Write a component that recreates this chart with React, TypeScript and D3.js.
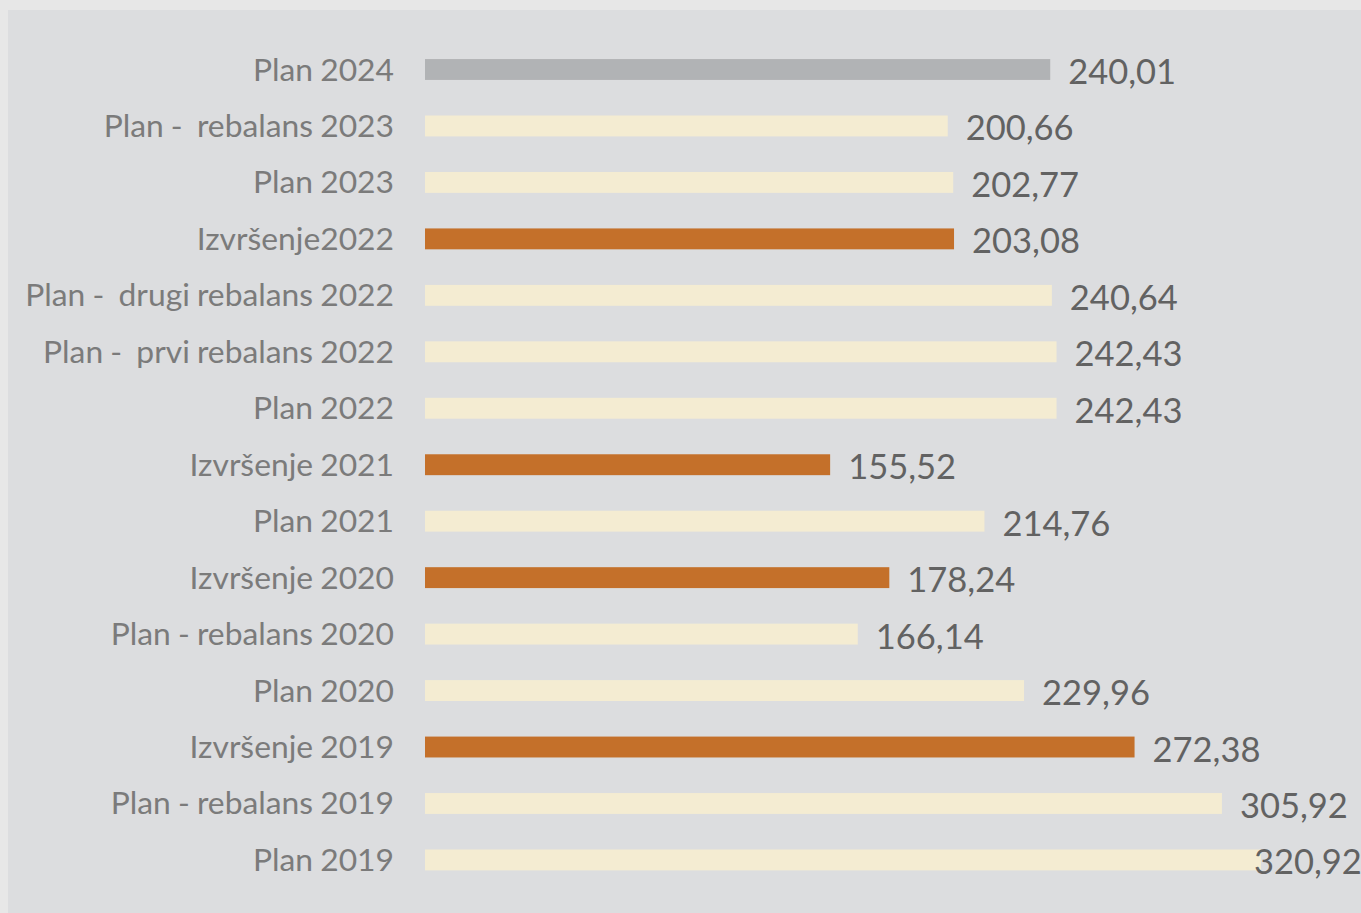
import React from "react";
import * as d3 from "d3";

const categories = [
  "Plan 2024",
  "Plan -  rebalans 2023",
  "Plan 2023",
  "Izvršenje2022",
  "Plan -  drugi rebalans 2022",
  "Plan -  prvi rebalans 2022",
  "Plan 2022",
  "Izvršenje 2021",
  "Plan 2021",
  "Izvršenje 2020",
  "Plan - rebalans 2020",
  "Plan 2020",
  "Izvršenje 2019",
  "Plan - rebalans 2019",
  "Plan 2019",
];
const values = [240.01, 200.66, 202.77, 203.08, 240.64, 242.43, 242.43, 155.52, 214.76, 178.24, 166.14, 229.96, 272.38, 305.92, 320.92];
const kinds = ["current", "plan", "plan", "exec", "plan", "plan", "plan", "exec", "plan", "exec", "plan", "plan", "exec", "plan", "plan"];

const colors: Record<string, string> = { current: "#b1b3b5", plan: "#f4ecd2", exec: "#c4702a" };

export default function App() {
  const W = 1361, H = 913;
  const x0 = 425;
  const x = d3.scaleLinear().domain([0, 320.92]).range([x0, 1261]);
  const step = 56.46;
  const y = d3.scaleBand<string>().domain(categories).range([69.5 - step / 2, 69.5 - step / 2 + step * categories.length]).paddingInner(0.63).paddingOuter(0.315);
  const fmt = (v: number) => v.toFixed(2).replace(".", ",");
  return (
    <svg width={W} height={H} style={{ position: "fixed", left: 0, top: 0 }} fontFamily="Lato">
      <rect x={0} y={0} width={W} height={H} fill="#e7e7e7" />
      <rect x={8} y={10} width={W - 8} height={H - 10} fill="#dcdddf" />
      {categories.map((c, i) => {
        const by = y(c)!;
        const bh = y.bandwidth();
        const cy = by + bh / 2;
        return (
          <g key={c}>
            <rect x={x0} y={by} width={x(values[i]) - x0} height={bh} fill={colors[kinds[i]]} />
            <text x={394} y={cy + 11} textAnchor="end" fontSize={31.8} fill="#7b7b7b" style={{ whiteSpace: "pre", wordSpacing: "-1px" }}>{c}</text>
            <text x={Math.min(x(values[i]) + 18, W - 107)} y={cy + 14.5} fontSize={34.5} fill="#626262">{fmt(values[i])}</text>
          </g>
        );
      })}
    </svg>
  );
}
